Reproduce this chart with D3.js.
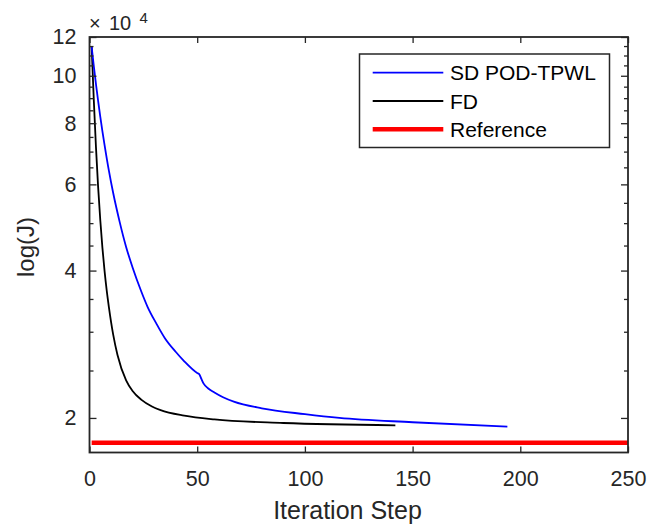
<!DOCTYPE html>
<html>
<head>
<meta charset="utf-8">
<script src="https://cdn.jsdelivr.net/npm/d3@7"></script>
<style>
  html, body { margin: 0; padding: 0; background: #fff; }
  svg { display: block; font-family: "Liberation Sans", Arial, Helvetica, sans-serif; }
</style>
</head>
<body>
<svg id="chart" width="661" height="527"></svg>
<script>
// ---- data (J values in units of 10^4) ----
const sdIter = [1, 2, 3, 4, 5, 6, 7, 9, 11, 14, 17, 20, 24, 27, 31, 35, 40, 44, 50, 51, 52, 53, 55, 58, 62, 67, 80, 100, 116, 150, 194];
const sdVal  = [11.45, 10.46, 9.61, 8.886, 8.25, 7.70, 7.22, 6.40, 5.76, 5.03, 4.47, 4.06, 3.63, 3.37, 3.12, 2.91, 2.73, 2.61, 2.47, 2.455, 2.40, 2.35, 2.30, 2.255, 2.205, 2.16, 2.093, 2.036, 2.0, 1.96, 1.92];
const fdIter = [1, 2, 3, 4, 5, 6, 7, 8, 9, 11, 13, 17, 20, 24, 29, 33, 44, 58, 90, 142];
const fdVal  = [11.45, 8.91, 7.15, 5.93, 5.075, 4.45, 3.99, 3.64, 3.37, 2.96, 2.69, 2.387, 2.271, 2.18, 2.111, 2.075, 2.022, 1.986, 1.953, 1.932];
const refIter = [1, 250];
const refVal  = [1.78, 1.78];
const seriesNames = ["SD POD-TPWL", "FD", "Reference"];
const xTicks = [0, 50, 100, 150, 200, 250];
const yTicks = [2, 4, 6, 8, 10, 12];
const yMinor = [2.5, 3, 3.5, 4.5, 5, 5.5, 6.5, 7, 7.5, 8.5, 9, 9.5, 10.5, 11, 11.5];
const scaleExp = 4;

// ---- layout ----
const L = 89.5, R = 628, T = 37, B = 452.5;
const svg = d3.select("#chart");
const x = d3.scaleLinear().domain([0, 250]).range([L, R]);
const y = d3.scaleLog().domain([1.7, 12]).range([B, T]);
const axisColor = "#262626";

const toPts = (it, v) => it.map((d, i) => [d, v[i]]);
const line = d3.line().x(d => x(d[0])).y(d => y(d[1])).curve(d3.curveMonotoneX);

const plot = svg.append("g");
plot.append("path").datum(toPts(refIter, refVal)).attr("d", d3.line().x(d => x(d[0])).y(d => y(d[1])))
  .attr("fill", "none").attr("stroke", "#ff0000").attr("stroke-width", 4.5);
plot.append("path").datum(toPts(fdIter, fdVal)).attr("d", line)
  .attr("fill", "none").attr("stroke", "#000").attr("stroke-width", 1.8);
plot.append("path").datum(toPts(sdIter, sdVal)).attr("d", line)
  .attr("fill", "none").attr("stroke", "#0000ff").attr("stroke-width", 1.8);

// ---- axes ----
function styleAxis(g) {
  g.select(".domain").remove();
  g.selectAll("line").attr("stroke", axisColor).attr("stroke-width", 1.3);
  g.selectAll("text").attr("fill", axisColor).style("font-size", "21.5px");
}
svg.append("g").attr("transform", `translate(0,${B})`)
  .call(d3.axisBottom(x).tickValues(xTicks).tickSize(-6).tickPadding(18).tickFormat(d3.format("d")))
  .call(styleAxis);
svg.append("g").attr("transform", `translate(0,${T})`)
  .call(d3.axisTop(x).tickValues(xTicks).tickSize(-6).tickFormat(""))
  .call(styleAxis);
svg.append("g").attr("transform", `translate(${L},0)`)
  .call(d3.axisLeft(y).tickValues(yTicks).tickSize(-7).tickPadding(13).tickFormat(d3.format("d")))
  .call(styleAxis);
svg.append("g").attr("transform", `translate(${R},0)`)
  .call(d3.axisRight(y).tickValues(yTicks).tickSize(-7).tickFormat(""))
  .call(styleAxis);
svg.append("g").attr("transform", `translate(${L},0)`)
  .call(d3.axisLeft(y).tickValues(yMinor).tickSize(-4).tickFormat(""))
  .call(styleAxis);
svg.append("g").attr("transform", `translate(${R},0)`)
  .call(d3.axisRight(y).tickValues(yMinor).tickSize(-4).tickFormat(""))
  .call(styleAxis);

svg.append("rect").attr("x", L).attr("y", T).attr("width", R - L).attr("height", B - T)
  .attr("fill", "none").attr("stroke", axisColor).attr("stroke-width", 1.8);

// exponent label
const ex = svg.append("text").attr("fill", axisColor);
ex.append("tspan").attr("x", 89).attr("y", 30).style("font-size", "20px").text("×");
ex.append("tspan").attr("x", 109).attr("y", 30).style("font-size", "20px").text("10");
ex.append("tspan").attr("x", 139.5).attr("y", 23).style("font-size", "15px").text(scaleExp);

// axis labels
svg.append("text").attr("x", 347.5).attr("y", 519).attr("text-anchor", "middle")
  .attr("fill", axisColor).style("font-size", "25px").text("Iteration Step");
svg.append("text").attr("transform", "translate(34,247) rotate(-90)").attr("text-anchor", "middle")
  .attr("fill", axisColor).style("font-size", "24px").text("log(J)");

// ---- legend ----
const lg = svg.append("g");
lg.append("rect").attr("x", 359.5).attr("y", 54).attr("width", 250).attr("height", 93.5)
  .attr("fill", "#fff").attr("stroke", axisColor).attr("stroke-width", 1.5);
const colors = ["#0000ff", "#000", "#ff0000"];
const widths = [1.8, 1.8, 4.5];
const ly = [72.7, 101, 129.3];
seriesNames.forEach((name, i) => {
  lg.append("line").attr("x1", 372.7).attr("x2", 443.3).attr("y1", ly[i]).attr("y2", ly[i])
    .attr("stroke", colors[i]).attr("stroke-width", widths[i]);
  lg.append("text").attr("x", 450).attr("y", ly[i]).attr("dy", "0.36em")
    .attr("fill", "#000").style("font-size", "21px").text(name);
});
</script>
</body>
</html>
